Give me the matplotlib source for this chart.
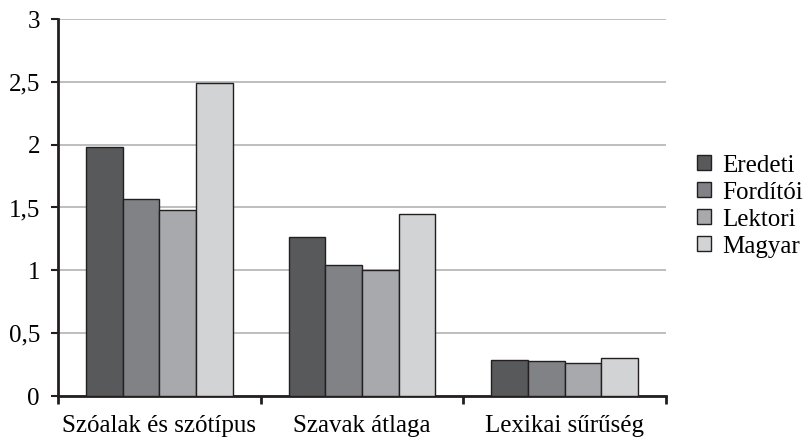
import matplotlib
matplotlib.use("Agg")
import matplotlib.pyplot as plt
import numpy as np
from matplotlib.patches import Patch

categories = ["Szóalak és szótípus", "Szavak átlaga", "Lexikai sűrűség"]
series = ["Eredeti", "Fordítói", "Lektori", "Magyar"]
eredeti = [1.98, 1.265, 0.29]
forditoi = [1.57, 1.04, 0.275]
lektori = [1.48, 1.005, 0.265]
magyar = [2.49, 1.45, 0.30]
values = [eredeti, forditoi, lektori, magyar]
colors = ["#58595b", "#808285", "#a7a9ac", "#d1d3d4"]
yticks = [0, 0.5, 1, 1.5, 2, 2.5, 3]
ytick_labels = ["0", "0,5", "1", "1,5", "2", "2,5", "3"]

plt.rcParams['font.family'] = 'serif'
plt.rcParams['font.serif'] = ['Liberation Serif', 'DejaVu Serif']

fig = plt.figure(figsize=(8.11, 4.40), dpi=100)
ax = fig.add_axes([58/811, 1-396/440, (666-58)/811, (396-19)/440])

x = np.arange(len(categories))
w = 0.181
for i, (vals, c) in enumerate(zip(values, colors)):
    ax.bar(x + (i - 1.5) * w, vals, width=w, color=c, edgecolor="#231f20",
           linewidth=1.0, zorder=3)

ax.set_xlim(-0.5, len(categories) - 0.5)
ax.set_ylim(0, 3)
ax.set_yticks(yticks)
ax.set_yticklabels(ytick_labels, fontsize=18)
ax.yaxis.grid(True, color="#b3b3b3", linewidth=1.2, zorder=0)
ax.set_axisbelow(True)

ax.set_xticks(x)
ax.set_xticklabels(categories, fontsize=18)
ax.tick_params(axis='x', length=0, pad=14)
ax.set_xticks(np.arange(len(categories) + 1) - 0.5, minor=True)
ax.tick_params(axis='x', which='minor', length=6, width=2, color="#231f20")
ax.tick_params(axis='y', length=5, width=1.5, color="#231f20", pad=8)

for s in ["top", "right"]:
    ax.spines[s].set_visible(False)
for s in ["left", "bottom"]:
    ax.spines[s].set_color("#231f20")
    ax.spines[s].set_linewidth(2)

handles = [Patch(facecolor=c, edgecolor="#231f20", linewidth=1.0) for c in colors]
fig.legend(handles, series, loc="center left", bbox_to_anchor=(697/811, 1-206/440),
           frameon=False, fontsize=18, handlelength=0.55, handleheight=0.55,
           handletextpad=0.45, labelspacing=0.2, borderpad=0, borderaxespad=0)

fig.savefig("out.png", dpi=100)
